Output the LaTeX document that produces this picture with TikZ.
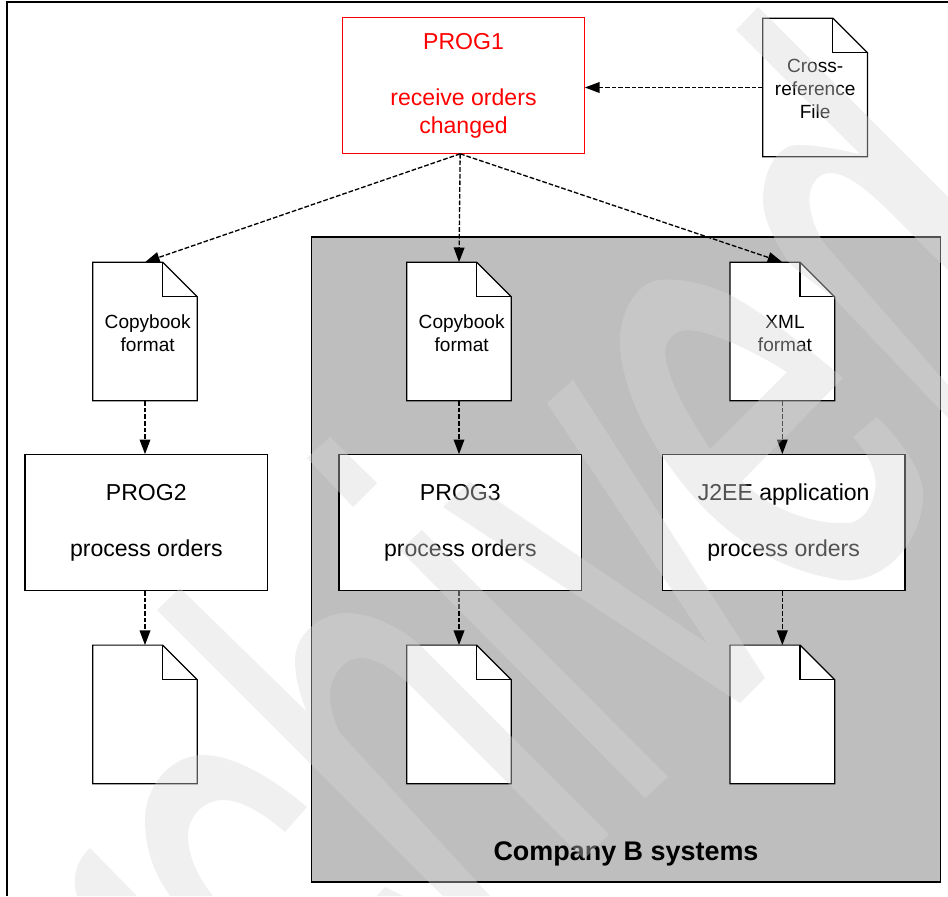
\documentclass[tikz,border=0pt]{standalone}
\usepackage{fontspec}
\setmainfont{Liberation Sans}
\usetikzlibrary{arrows.meta,positioning}
\definecolor{panelgray}{gray}{0.745}
\definecolor{markgray}{gray}{0.843}

\begin{document}
\begin{tikzpicture}[x=0.75pt,y=-0.75pt]
	\tikzstyle{progbox}=[rectangle, draw=black, fill=white, line width=0.9pt, inner sep=0pt, outer sep=0pt, minimum width=182pt, minimum height=102.5pt, align=center, font=\fontsize{17.3pt}{21pt}\selectfont, node distance=40pt]
	\tikzstyle{doctext}=[align=center, font=\fontsize{14.3pt}{17.2pt}\selectfont]
	\tikzstyle{docfile}=[rectangle, inner sep=0pt, outer sep=0pt, minimum width=78.5pt, minimum height=104pt, node distance=40.7pt,
		append after command={\pgfextra{\let\lastdoc\tikzlastnode
			\filldraw[fill=white, draw=black, line width=0.9pt]
			(\lastdoc.north west) -- ([xshift=-26pt]\lastdoc.north east) -- ([yshift=-26pt]\lastdoc.north east) -- (\lastdoc.south east) -- (\lastdoc.south west) -- cycle;
			\draw[line width=0.9pt] ([xshift=-26pt]\lastdoc.north east) -- ([xshift=-26pt,yshift=-26pt]\lastdoc.north east) -- ([yshift=-26pt]\lastdoc.north east);
		}}]
	\tikzstyle{connect}=[-{Triangle[length=11pt,width=8pt]}, line width=1pt, dash pattern=on 3.5pt off 1.5pt]
	\tikzstyle{overlay}=[fill=markgray, fill opacity=0.385, draw=none]
	\useasboundingbox (0,0) rectangle (948,896);
	\draw[line width=1pt] (7,896) -- (7,2) -- (948,2);
	\node[rectangle, draw=black, fill=panelgray, line width=0.9pt, inner sep=0pt, minimum width=472pt, minimum height=483.75pt] (companyb) at (626,559.5) { };
	\node[progbox, draw=red, text=red] (prog1) at (463.5,85.5) {PROG1\\[21pt]receive orders\\changed};
	\node[docfile, right=133.5pt of prog1, yshift=-1.5pt, label={[doctext,yshift=-0.8pt]center:Cross-\\reference\\File}] (crossfile) { };
	\node[docfile, label={[doctext,xshift=2pt,yshift=-1.2pt]center:Copybook\\format}] (copybook1) at (145,331.5) { };
	\node[docfile, right=157pt of copybook1, label={[doctext,xshift=2pt,yshift=-1.2pt]center:Copybook\\format}] (copybook2) { };
	\node[docfile, right=164pt of copybook2, label={[doctext,xshift=2pt,yshift=-1.2pt]center:XML\\format}] (xmlfile) { };
	\node[progbox, below=of copybook1, xshift=1pt] (prog2) {PROG2\\[21pt]process orders};
	\node[progbox, below=of copybook2, xshift=1pt] (prog3) {PROG3\\[21pt]process orders};
	\node[progbox, below=of xmlfile, xshift=1pt] (j2ee) {J2EE application\\[21pt]process orders};
	\node[docfile, below=of prog2, xshift=-1pt] (output1) { };
	\node[docfile, below=of prog3, xshift=-1pt] (output2) { };
	\node[docfile, below=of j2ee, xshift=-1pt] (output3) { };
	\node[font=\fontsize{20.2pt}{24pt}\selectfont\bfseries, above=9pt of companyb.south] (companyname) {Company B systems};
	\path (crossfile.west) edge [connect] (crossfile.west -| prog1.east)
	([xshift=-2.5pt]prog1.south) edge [connect] (copybook1.north)
	([xshift=-2.5pt]prog1.south) edge [connect] (copybook2.north)
	([xshift=-2.5pt]prog1.south) edge [connect] (xmlfile.north)
	(copybook1.south) edge [connect] (copybook1.south |- prog2.north)
	(copybook2.south) edge [connect] (copybook2.south |- prog3.north)
	(xmlfile.south) edge [connect] (xmlfile.south |- j2ee.north)
	(output1.north |- prog2.south) edge [connect] (output1.north)
	(output2.north |- prog3.south) edge [connect] (output2.north)
	(output3.north |- j2ee.south) edge [connect] (output3.north);
	% watermark lies over everything
	\fill[overlay] (758,7) -- (948,197) -- (948,270) .. controls (900,225) and (860,173) .. (830,173) .. controls (815,173) and (807,190) .. (810,207) .. controls (813,225) and (820,240) .. (830,250) -- (948,385) -- (948,418) -- (833,297) .. controls (810,280) and (795,270) .. (787,260) .. controls (775,240) and (763,220) .. (763,200) .. controls (763,170) and (778,145) .. (797,145) .. controls (820,145) and (840,150) .. (860,154) -- (736,30) -- cycle;
	\fill[overlay, even odd rule] (843,378) .. controls (810,350) and (760,310) .. (730,295) .. controls (705,283) and (680,278) .. (657,280) .. controls (635,285) and (618,315) .. (620,347) .. controls (622,380) and (640,425) .. (665,460) .. controls (700,510) and (750,565) .. (840,580) .. controls (885,585) and (925,540) .. (923,490) .. controls (920,465) and (895,435) .. (877,417) -- (853,437) .. controls (870,455) and (878,475) .. (875,490) .. controls (872,510) and (860,523) .. (847,523) .. controls (815,525) and (770,510) .. (742,481) -- cycle
	(787,372) -- (710,449) .. controls (695,425) and (668,385) .. (665,353) .. controls (665,340) and (675,330) .. (687,330) .. controls (710,330) and (755,352) .. (787,372) -- cycle;
	\fill[overlay] (443,507) -- (470,482) -- (708,644) -- (547,403) -- (573,380) -- (765,678) -- (740,703) -- cycle;
	\fill[overlay] (307,458) -- (330,437) -- (377,483) -- (353,507) -- cycle;
	\fill[overlay] (400,550) -- (422,530) -- (668,777) -- (645,798) -- cycle;
	\fill[overlay] (157,610) -- (180,588) -- (307,712) .. controls (298,690) and (295,675) .. (295,660) .. controls (295,635) and (320,613) .. (347,613) .. controls (370,613) and (400,627) .. (420,645) -- (609,834) -- (584,859) -- (407,682) .. controls (390,667) and (375,658) .. (360,658) .. controls (342,658) and (328,680) .. (330,700) .. controls (332,715) and (336,725) .. (340,733) -- (490,896) -- (443,896) -- cycle;
	\fill[overlay] (307,807) -- (285,832) .. controls (265,815) and (243,800) .. (223,800) .. controls (203,800) and (187,818) .. (188,837) .. controls (189,860) and (200,880) .. (213,896) -- (170,896) .. controls (155,875) and (145,850) .. (145,820) .. controls (145,785) and (172,755) .. (203,755) .. controls (235,755) and (275,780) .. (307,807) -- cycle;
	\fill[overlay] (90,848) -- (137,896) -- (77,896) .. controls (72,880) and (75,862) .. (90,848) -- cycle;
	\fill[overlay] (377,896) -- (385,887) -- (403,896) -- cycle;
\end{tikzpicture}
\end{document}
